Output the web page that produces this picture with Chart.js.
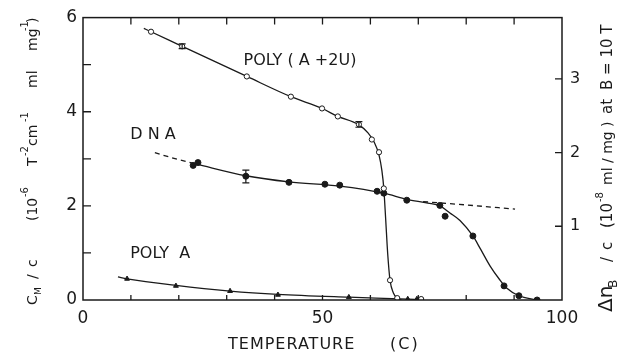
<!DOCTYPE html>
<html><head><meta charset="utf-8">
<script src="https://cdn.jsdelivr.net/npm/chart.js@4/dist/chart.umd.min.js"></script>
<style>html,body{margin:0;padding:0;background:#fff}#wrap{width:618px;height:362px}</style>
</head><body><div id="wrap"><canvas id="c" width="618" height="362"></canvas></div>
<script>
// ---- data (left axis units: C_M/c, 10^-6 T^-2 cm^-1 ml mg^-1) ----
const xTickLabels = [0, 50, 100];
const yLeftTickLabels = [0, 2, 4, 6];
const yRightTickLabels = [1, 2, 3];

// POLY (A+2U) open circles
const polyAUTemp = [14.2, 20.7, 34.2, 43.4, 49.9, 53.2, 57.6, 60.3, 61.8, 62.8, 64.1, 65.6, 70.6];
const polyAUVal  = [5.70, 5.39, 4.75, 4.32, 4.07, 3.90, 3.73, 3.41, 3.14, 2.37, 0.42, 0.04, 0.02];
// fitted curve knots
const polyAUCurveTemp = [12.7, 14.2, 20.7, 34.2, 43.4, 49.9, 53.2, 57.6, 59.5, 60.8, 61.8, 62.4, 62.8, 63.2, 63.6, 64.1, 64.8, 65.6, 66.5];
const polyAUCurveVal  = [5.77, 5.70, 5.39, 4.75, 4.32, 4.07, 3.90, 3.72, 3.55, 3.35, 3.08, 2.75, 2.37, 1.70, 1.00, 0.42, 0.15, 0.04, 0.0];
const polyAUErrTemp = [20.7, 57.6];
const polyAUErrLow  = [5.34, 3.67];
const polyAUErrHigh = [5.44, 3.79];

// DNA filled circles
const dnaTemp = [23.0, 24.0, 34.0, 43.0, 50.5, 53.6, 61.4, 62.8, 67.6, 74.5, 75.6, 81.4, 87.9, 91.0, 94.8];
const dnaVal  = [2.86, 2.92, 2.63, 2.50, 2.46, 2.44, 2.31, 2.27, 2.12, 2.01, 1.78, 1.36, 0.30, 0.09, 0.0];
const dnaCurveTemp = [23.5, 34.0, 43.0, 53.6, 62.8, 67.6, 72.0, 74.5, 76.6, 78.7, 81.4, 83.0, 85.0, 87.0, 88.5, 91.0, 94.8];
const dnaCurveVal  = [2.89, 2.64, 2.51, 2.42, 2.27, 2.14, 2.06, 2.00, 1.85, 1.69, 1.36, 1.08, 0.72, 0.43, 0.25, 0.09, 0.0];
const dnaDashLowTemp = [15.0, 19.0, 23.5];
const dnaDashLowVal  = [3.13, 3.01, 2.89];
const dnaDashHighTemp = [71.0, 80.0, 90.2];
const dnaDashHighVal  = [2.09, 2.02, 1.93];
const dnaErrTemp = [34.0];
const dnaErrLow  = [2.49];
const dnaErrHigh = [2.76];

// POLY A triangles
const polyATemp = [9.2, 19.4, 30.7, 40.7, 55.5, 67.8, 69.7];
const polyAVal  = [0.45, 0.30, 0.19, 0.11, 0.06, 0.02, 0.02];
const polyACurveTemp = [7.3, 9.2, 19.4, 30.7, 40.7, 55.5, 67.8, 70.0];
const polyACurveVal  = [0.49, 0.45, 0.31, 0.19, 0.12, 0.06, 0.02, 0.01];

const pts = (xs, ys) => xs.map((x, i) => ({x, y: ys[i]}));
const FONT = '"DejaVu Sans", sans-serif';
const INK = '#1a1a1a';

function curve(xs, ys, dash) {
  return {type: 'line', data: pts(xs, ys), borderColor: INK, borderWidth: 1.3, pointRadius: 0,
    cubicInterpolationMode: 'monotone', borderDash: dash || [], fill: false, yAxisID: 'y', order: 2};
}
function marks(xs, ys, style, filled, r) {
  return {type: 'scatter', data: pts(xs, ys), pointStyle: style, pointRadius: r,
    pointBackgroundColor: filled ? INK : '#fff', pointBorderColor: INK, pointBorderWidth: 1,
    showLine: false, yAxisID: 'y', order: 1};
}

const deco = {
  id: 'deco',
  afterDraw(chart) {
    const ctx = chart.ctx, a = chart.chartArea;
    const X = chart.scales.x, Y = chart.scales.y, YR = chart.scales.yR;
    ctx.save();
    ctx.strokeStyle = INK; ctx.lineWidth = 1.5;
    ctx.strokeRect(a.left, a.top, a.right - a.left, a.bottom - a.top);
    ctx.lineWidth = 1.3;
    ctx.beginPath();
    for (let v = 10; v < 100; v += 10) {
      const px = X.getPixelForValue(v);
      ctx.moveTo(px, a.bottom); ctx.lineTo(px, a.bottom - 5);
      ctx.moveTo(px, a.top); ctx.lineTo(px, a.top + 7);
    }
    for (let v = 1; v < 6; v++) {
      const py = Y.getPixelForValue(v);
      ctx.moveTo(a.left, py); ctx.lineTo(a.left + 8, py);
    }
    for (const v of yRightTickLabels) {
      const py = YR.getPixelForValue(v);
      ctx.moveTo(a.right, py); ctx.lineTo(a.right - 7, py);
    }
    ctx.stroke();
    // error bars
    const err = (xs, lo, hi) => {
      ctx.beginPath();
      xs.forEach((x, i) => {
        const px = X.getPixelForValue(x), p1 = Y.getPixelForValue(lo[i]), p2 = Y.getPixelForValue(hi[i]);
        ctx.moveTo(px, p1); ctx.lineTo(px, p2);
        ctx.moveTo(px - 3.5, p1); ctx.lineTo(px + 3.5, p1);
        ctx.moveTo(px - 3.5, p2); ctx.lineTo(px + 3.5, p2);
      });
      ctx.stroke();
    };
    ctx.lineWidth = 1.2;
    err(polyAUErrTemp, polyAUErrLow, polyAUErrHigh);
    err(dnaErrTemp, dnaErrLow, dnaErrHigh);

    // series labels
    ctx.fillStyle = INK; ctx.textAlign = 'center'; ctx.textBaseline = 'middle';
    ctx.font = '16px ' + FONT;
    ctx.fillText('POLY ( A +2U)', X.getPixelForValue(45.3), Y.getPixelForValue(5.09));
    ctx.fillText('D N A', X.getPixelForValue(14.6), Y.getPixelForValue(3.50));
    ctx.fillText('POLY  A', X.getPixelForValue(16.1), Y.getPixelForValue(0.98));

    // x title
    ctx.font = '16px ' + FONT;
    ctx.letterSpacing = '1px';
    ctx.textAlign = 'left';
    ctx.fillText('TEMPERATURE', 228, 345);
    ctx.letterSpacing = '2px';
    ctx.fillText('(C)', 390, 345);
    ctx.letterSpacing = '0px';

    // rotated titles with sub/superscripts, explicit offsets along the text line
    const runs = (x0, y0, parts) => {
      ctx.save();
      ctx.translate(x0, y0); ctx.rotate(-Math.PI / 2);
      ctx.textAlign = 'left'; ctx.textBaseline = 'alphabetic';
      for (const [t, size, dy, off] of parts) {
        ctx.font = size + 'px ' + FONT;
        ctx.fillText(t, off, dy);
      }
      ctx.restore();
    };
    runs(37, 305, [['C', 14, 0, 0], ['M', 9, 4, 10], ['/', 14, 0, 26], ['c', 14, 0, 38],
      ['(10', 14, 0, 84], ['-6', 10, -9, 108], ['T', 14, 0, 139], ['-2', 10, -9, 149],
      ['cm', 14, 0, 159], ['-1', 10, -9, 183], ['ml', 14, 0, 217], ['mg', 14, 0, 254],
      ['-1', 10, -9, 274], [')', 14, 0, 282]]);
    runs(612, 312, [['\u0394n', 20, 0, 0], ['B', 12, 5, 24], ['/', 15, 0, 50], ['c', 15, 0, 62],
      ['(10', 15, 0, 84], ['-8', 10, -9, 110], ['ml / mg )', 14, 0, 127], ['at', 15, 0, 198],
      ['B = 10 T', 15, 0, 222]]);
    ctx.restore();
  }
};

new Chart(document.getElementById('c'), {
  data: {
    datasets: [
      curve(polyAUCurveTemp, polyAUCurveVal),
      curve(dnaCurveTemp, dnaCurveVal),
      curve(dnaDashLowTemp, dnaDashLowVal, [5, 4]),
      curve(dnaDashHighTemp, dnaDashHighVal, [5, 4]),
      curve(polyACurveTemp, polyACurveVal),
      marks(polyAUTemp, polyAUVal, 'circle', false, 2.6),
      marks(dnaTemp, dnaVal, 'circle', true, 3),
      marks(polyATemp, polyAVal, 'triangle', true, 2.8)
    ]
  },
  options: {
    responsive: false, animation: false,
    layout: {padding: {top: 17, left: 0, right: 0, bottom: 0}},
    plugins: {legend: {display: false}, tooltip: {enabled: false}},
    scales: {
      x: {type: 'linear', min: 0, max: 100,
        grid: {display: false, drawTicks: false}, border: {display: false},
        afterFit: s => { s.height = 62; },
        ticks: {stepSize: 10, padding: 8, color: INK, font: {family: FONT, size: 17},
          autoSkip: false, maxRotation: 0,
          callback: v => xTickLabels.includes(v) ? String(v) : ''}},
      y: {type: 'linear', position: 'left', min: 0, max: 6,
        grid: {display: false, drawTicks: false}, border: {display: false},
        afterFit: s => { s.width = 83; },
        ticks: {stepSize: 1, padding: 6, color: INK, font: {family: FONT, size: 17},
          callback: v => yLeftTickLabels.includes(v) ? String(v) : ''}},
      yR: {type: 'linear', position: 'right', min: 0, max: 3.83,
        grid: {display: false, drawTicks: false}, border: {display: false},
        afterFit: s => { s.width = 56; },
        afterBuildTicks: s => { s.ticks = yRightTickLabels.map(v => ({value: v})); },
        ticks: {padding: 8, color: INK, font: {family: FONT, size: 16},
          callback: v => String(v)}}
    }
  },
  plugins: [deco]
});
</script>
</body></html>
